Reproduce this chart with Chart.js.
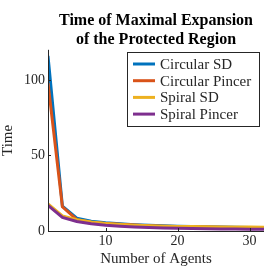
<!DOCTYPE html>
<html>
<head>
<meta charset="utf-8">
<script src="https://cdn.jsdelivr.net/npm/chart.js@4/dist/chart.umd.min.js"></script>
<style>
  html, body { margin: 0; padding: 0; background: #fff; }
  #wrap { width: 265px; height: 270px; }
</style>
</head>
<body>
<div id="wrap"><canvas id="myChart" width="265" height="270"></canvas></div>
<script>
// agents on the x axis
var agents = [2, 4, 6, 8, 10, 12, 14, 16, 18, 20, 22, 24, 26, 28, 30, 32];

var circularSD     = [116, 16.5, 8.5, 6.5, 5.5, 4.8, 4.2, 3.8, 3.5, 3.2, 3.0, 2.8, 2.6, 2.5, 2.4, 2.3];
var circularPincer = [98, 16, 7.5, 5.8, 5.0, 4.4, 3.9, 3.5, 3.2, 3.0, 2.8, 2.6, 2.5, 2.4, 2.3, 2.2];
var spiralSD       = [18, 10, 7.5, 6.0, 5.0, 4.3, 3.8, 3.5, 3.2, 3.0, 2.9, 2.8, 2.7, 2.6, 2.6, 2.5];
var spiralPincer   = [17, 9, 6.3, 4.8, 3.8, 3.2, 2.7, 2.3, 2.0, 1.8, 1.6, 1.5, 1.4, 1.3, 1.2, 1.1];

var seriesNames = ["Circular SD", "Circular Pincer", "Spiral SD", "Spiral Pincer"];
var seriesColors = ["#0072BD", "#D95319", "#EDB120", "#7E2F8E"];
var xTicks = [10, 20, 30];
var yTicks = [0, 50, 100];

var allSeries = [circularSD, circularPincer, spiralSD, spiralPincer];
var serif = "'Liberation Serif', 'DejaVu Serif', serif";
var textCol = "#262626";
var axisCol = "#262626";

function toPoints(ys) {
  var pts = [];
  for (var i = 0; i < agents.length; i++) pts.push({x: agents[i], y: ys[i]});
  return pts;
}

var datasets = [];
for (var k = 0; k < allSeries.length; k++) {
  datasets.push({
    label: seriesNames[k],
    data: toPoints(allSeries[k]),
    borderColor: seriesColors[k],
    borderWidth: 3,
    pointRadius: 0,
    fill: false,
    tension: 0,
    order: allSeries.length - k
  });
}

// matlab style: inward ticks + legend box inside the axes
var matlabBits = {
  id: "matlabBits",
  afterDraw: function (chart) {
    var ctx = chart.ctx;
    var a = chart.chartArea;
    var xs = chart.scales.x, ys = chart.scales.y;
    ctx.save();
    ctx.strokeStyle = axisCol;
    ctx.lineWidth = 1;
    ctx.beginPath();
    ctx.moveTo(a.left + 0.5, a.top);
    ctx.lineTo(a.left + 0.5, a.bottom + 0.5);
    ctx.lineTo(a.right, a.bottom + 0.5);
    xTicks.forEach(function (v) {
      var px = Math.round(xs.getPixelForValue(v)) + 0.5;
      ctx.moveTo(px, a.bottom);
      ctx.lineTo(px, a.bottom - 3);
    });
    yTicks.forEach(function (v) {
      var py = Math.round(ys.getPixelForValue(v)) + 0.5;
      ctx.moveTo(a.left, py);
      ctx.lineTo(a.left + 3, py);
    });
    ctx.stroke();

    // legend
    var bx = 127.5, by = 52.5, bw = 132, bh = 74;
    ctx.fillStyle = "#fff";
    ctx.fillRect(bx, by, bw, bh);
    ctx.strokeStyle = "#262626";
    ctx.strokeRect(bx, by, bw, bh);
    ctx.font = "15px " + serif;
    ctx.textBaseline = "middle";
    for (var i = 0; i < seriesNames.length; i++) {
      var ry = 64 + i * 16.7;
      ctx.strokeStyle = seriesColors[i];
      ctx.lineWidth = 3;
      ctx.beginPath();
      ctx.moveTo(133, ry);
      ctx.lineTo(155, ry);
      ctx.stroke();
      ctx.fillStyle = textCol;
      ctx.fillText(seriesNames[i], 160, ry + 1);
    }
    ctx.restore();
  }
};

new Chart("myChart", {
  type: "line",
  data: { datasets: datasets },
  plugins: [matlabBits],
  options: {
    responsive: false,
    animation: false,
    layout: { padding: { left: 1, right: 1, top: 9, bottom: 3 } },
    plugins: {
      legend: { display: false },
      tooltip: { enabled: false },
      title: {
        display: true,
        fullSize: false,
        text: ["Time of Maximal Expansion", "of the Protected Region"],
        color: "#000",
        font: { family: serif, size: 16, weight: "bold", lineHeight: 1.15 },
        padding: { top: 3, bottom: 1 }
      }
    },
    scales: {
      x: {
        type: "linear",
        min: 2,
        max: 32,
        afterBuildTicks: function (s) { s.ticks = xTicks.map(function (v) { return {value: v}; }); },
        grid: { display: false, drawTicks: false },
        border: { display: false },
        ticks: { color: textCol, font: { family: serif, size: 14, lineHeight: 1 }, padding: 3, maxRotation: 0 },
        title: { display: true, text: "Number of Agents", color: textCol, font: { family: serif, size: 15, lineHeight: 1 }, padding: { top: 1, bottom: 0 } }
      },
      y: {
        min: 0,
        max: 120,
        afterBuildTicks: function (s) { s.ticks = yTicks.map(function (v) { return {value: v}; }); },
        grid: { display: false, drawTicks: false },
        border: { display: false },
        ticks: { color: textCol, font: { family: serif, size: 14 }, padding: 3 },
        title: { display: true, text: "Time", color: textCol, font: { family: serif, size: 15, lineHeight: 1 }, padding: { top: 0, bottom: 5 } }
      }
    }
  }
});
</script>
</body>
</html>
